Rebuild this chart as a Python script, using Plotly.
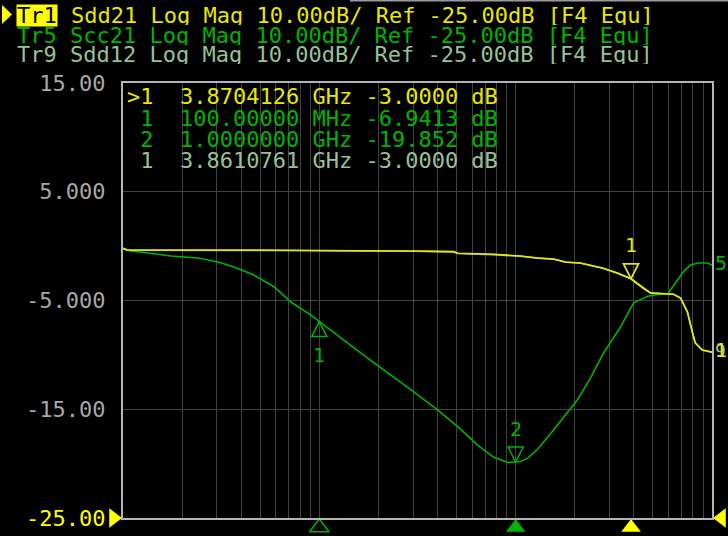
import numpy as np
import plotly.graph_objects as go

# ---------------- data (frequency in GHz, magnitude in dB) ----------------
tr1_freq = [0.0100, 0.0105, 0.050, 0.1145, 0.157, 0.300, 0.484, 0.507, 0.773, 1.06, 1.29, 1.56,
            1.80, 2.14, 2.77, 3.30, 3.87, 4.48, 4.86, 5.94, 6.36, 6.92, 7.50, 7.94, 8.22, 8.93, 9.80, 10.0]
tr1_db = [-0.20, -0.36, -0.36, -0.36, -0.42, -0.45, -0.51, -0.66, -0.75, -0.91, -1.09, -1.18,
          -1.46, -1.55, -2.01, -2.47, -3.00, -3.85, -4.31, -4.40, -4.43, -4.77, -6.06, -7.90, -8.90, -9.55, -9.74, -9.75]

tr9_freq = [0.0100, 0.0105, 0.050, 0.1145, 0.157, 0.300, 0.484, 0.507, 0.773, 1.06, 1.29, 1.56,
            1.80, 2.14, 2.77, 3.30, 3.86, 4.48, 4.86, 5.94, 6.36, 6.92, 7.50, 7.94, 8.22, 8.93, 9.80, 10.0]
tr9_db = [-0.20, -0.38, -0.40, -0.42, -0.45, -0.47, -0.53, -0.68, -0.78, -0.93, -1.10, -1.20,
          -1.48, -1.57, -2.03, -2.49, -3.00, -3.90, -4.30, -4.38, -4.42, -4.78, -6.08, -7.92, -8.92, -9.56, -9.75, -9.76]

tr5_freq = [0.0100, 0.0109, 0.0134, 0.0175, 0.0241, 0.0305, 0.0368, 0.0464, 0.0589, 0.0717, 0.0906,
            0.100, 0.114, 0.129, 0.163, 0.206, 0.260, 0.292, 0.400, 0.507, 0.640, 0.770, 0.910, 1.00,
            1.06, 1.15, 1.24, 1.29, 1.56, 1.84, 2.07, 2.41, 2.80, 3.42, 3.98, 4.69, 5.30, 5.94, 6.67,
            7.20, 7.78, 8.50, 9.46, 10.0]
tr5_db = [-0.20, -0.45, -0.63, -0.91, -1.09, -1.46, -1.92, -2.66, -3.76, -5.14, -6.34,
          -6.94, -7.72, -8.45, -9.83, -11.2, -12.5, -13.2, -15.05, -16.6, -18.3, -19.4, -19.9, -19.85,
          -19.8, -19.5, -19.0, -18.7, -16.9, -15.3, -14.1, -12.1, -9.83, -7.44, -5.23, -4.60, -4.45, -4.40, -3.10,
          -2.30, -1.74, -1.55, -1.55, -1.74]

# markers
mk1_freq = [3.8704126]
mk1_db = [-3.0000]
mk9_freq = [3.8610761]
mk9_db = [-3.0000]
mk5_freq = [0.1, 1.0]
mk5_db = [-6.9413, -19.852]
mk5_labels = ["1", "2"]

# axis
y_ticks = [15, 5, -5, -15, -25]
y_ticktext = ["15.00", "5.000", "-5.000", "-15.00", "-25.00"]
x_grid = [m * 10.0 ** e for e in (-2, -1, 0) for m in range(1, 10)] + [10.0]

header_rows = [
    ("Tr1", "Sdd21 Log Mag 10.00dB/ Ref -25.00dB [F4 Equ]"),
    ("Tr5", "Scc21 Log Mag 10.00dB/ Ref -25.00dB [F4 Equ]"),
    ("Tr9", "Sdd12 Log Mag 10.00dB/ Ref -25.00dB [F4 Equ]"),
]
table_rows = [
    ">1  3.8704126 GHz -3.0000 dB",
    " 1  100.00000 MHz -6.9413 dB",
    " 2  1.0000000 GHz -19.852 dB",
    " 1  3.8610761 GHz -3.0000 dB",
]

# ---------------- styling ----------------
YEL = "#e8e800"
YEL_B = "#ffff00"
GRN = "#00b400"
PAL = "#98c098"
AXC = "#a8a8a8"
GRID = "#424242"
FONT = "DejaVu Sans Mono"

W, H = 728, 536
L, R, T, B = 123, 16, 83, 18
PW, PH = W - L - R, H - T - B


def pxx(x):
    return (x - L) / PW


def pxy(y):
    return (H - B - y) / PH


fig = go.Figure()

fig.add_trace(go.Scatter(x=tr9_freq, y=tr9_db, mode="lines", line=dict(color=PAL, width=1.6), hoverinfo="skip"))
fig.add_trace(go.Scatter(x=tr5_freq, y=tr5_db, mode="lines", line=dict(color=GRN, width=1.6), hoverinfo="skip"))
fig.add_trace(go.Scatter(x=tr1_freq, y=tr1_db, mode="lines", line=dict(color=YEL, width=1.6), hoverinfo="skip"))

# on-trace markers (arrow symbols: tip sits on the data point)
fig.add_trace(go.Scatter(x=mk9_freq, y=mk9_db, mode="markers", cliponaxis=False,
                         marker=dict(symbol="arrow-down-open", size=15, color=PAL, line=dict(color=PAL, width=1.5))))
fig.add_trace(go.Scatter(x=mk1_freq, y=mk1_db, mode="markers", cliponaxis=False,
                         marker=dict(symbol="arrow-down-open", size=15, color=YEL, line=dict(color=YEL, width=1.5))))
fig.add_trace(go.Scatter(x=mk5_freq[:1], y=mk5_db[:1], mode="markers", cliponaxis=False,
                         marker=dict(symbol="arrow-up-open", size=15, color=GRN, line=dict(color=GRN, width=1.5))))
fig.add_trace(go.Scatter(x=mk5_freq[1:], y=mk5_db[1:], mode="markers", cliponaxis=False,
                         marker=dict(symbol="arrow-down-open", size=15, color=GRN, line=dict(color=GRN, width=1.5))))

# stimulus indicators under the axis (pointing up, pushed below the axis)
fig.add_trace(go.Scatter(x=mk5_freq[:1], y=[-25], mode="markers", cliponaxis=False,
                         marker=dict(symbol="triangle-up-open", size=17, angle=0, standoff=9.5,
                                     color=GRN, line=dict(color=GRN, width=1.5))))
fig.add_trace(go.Scatter(x=mk5_freq[1:], y=[-25], mode="markers", cliponaxis=False,
                         marker=dict(symbol="triangle-up", size=17, angle=0, standoff=9.5,
                                     color=GRN, line=dict(width=0))))
fig.add_trace(go.Scatter(x=mk1_freq, y=[-25], mode="markers", cliponaxis=False,
                         marker=dict(symbol="triangle-up", size=17, angle=0, standoff=9.5,
                                     color=YEL_B, line=dict(width=0))))
# reference level pointers
fig.add_trace(go.Scatter(x=[tr1_freq[0]], y=[-25], mode="markers", cliponaxis=False,
                         marker=dict(symbol="triangle-up", size=17, angle=90, standoff=9.5,
                                     color=YEL_B, line=dict(width=0))))
fig.add_trace(go.Scatter(x=[tr1_freq[-1]], y=[-25], mode="markers", cliponaxis=False,
                         marker=dict(symbol="triangle-up", size=17, angle=270, standoff=9.5,
                                     color=YEL_B, line=dict(width=0))))

annotations = []
# marker numbers
annotations.append(dict(x=np.log10(mk1_freq[0]), y=mk1_db[0], xref="x", yref="y", text="1", showarrow=False,
                        yshift=34, font=dict(family=FONT, size=20, color=YEL)))
annotations.append(dict(x=np.log10(mk5_freq[0]), y=mk5_db[0], xref="x", yref="y", text=mk5_labels[0],
                        showarrow=False, yshift=-33, font=dict(family=FONT, size=20, color=GRN)))
annotations.append(dict(x=np.log10(mk5_freq[1]), y=mk5_db[1], xref="x", yref="y", text=mk5_labels[1],
                        showarrow=False, yshift=33, font=dict(family=FONT, size=20, color=GRN)))
# trace end labels
annotations.append(dict(x=np.log10(tr5_freq[-1]), y=tr5_db[-1], xref="x", yref="y", text="5", showarrow=False,
                        xanchor="left", xshift=1, yshift=2, font=dict(family=FONT, size=20, color=GRN)))
annotations.append(dict(x=np.log10(tr9_freq[-1]), y=tr9_db[-1], xref="x", yref="y", text="9", showarrow=False,
                        xanchor="left", xshift=1, yshift=2, font=dict(family=FONT, size=18, color=PAL)))
annotations.append(dict(x=np.log10(tr1_freq[-1]), y=tr1_db[-1], xref="x", yref="y", text="1", showarrow=False,
                        xanchor="left", xshift=1, yshift=2, font=dict(family=FONT, size=20, color=YEL)))

# header
row_y = [15, 35, 55]
row_col = [YEL, GRN, PAL]
for i, (tr, desc) in enumerate(header_rows):
    if i == 0:
        annotations.append(dict(x=pxx(16), y=pxy(row_y[i]), xref="paper", yref="paper", text=tr,
                                showarrow=False, xanchor="left", yanchor="middle", bgcolor=YEL_B, borderpad=0,
                                height=21, font=dict(family=FONT, size=22, color="#000000")))
        annotations.append(dict(x=pxx(70), y=pxy(row_y[i]), xref="paper", yref="paper",
                                text=desc.replace(" ", "\u00a0"), showarrow=False, xanchor="left",
                                yanchor="middle", borderpad=0, height=19,
                                font=dict(family=FONT, size=22, color=row_col[i])))
    else:
        annotations.append(dict(x=pxx(16), y=pxy(row_y[i]), xref="paper", yref="paper",
                                text=(tr + " " + desc).replace(" ", "\u00a0"), showarrow=False, xanchor="left",
                                yanchor="middle", borderpad=0, height=19,
                                font=dict(family=FONT, size=22, color=row_col[i])))

# marker table
tab_y = [96, 117.5, 139, 160]
tab_col = [YEL, GRN, GRN, PAL]
for i, row in enumerate(table_rows):
    annotations.append(dict(x=pxx(126), y=pxy(tab_y[i]), xref="paper", yref="paper",
                            text=row.replace(" ", "\u00a0"), showarrow=False, xanchor="left", yanchor="middle",
                            borderpad=0, height=20, font=dict(family=FONT, size=22, color=tab_col[i])))

shapes = [
    # active-trace pointer
    dict(type="path", xref="paper", yref="paper",
         path=f"M {pxx(2)} {pxy(5)} L {pxx(12)} {pxy(14.5)} L {pxx(2)} {pxy(24)} Z",
         fillcolor=YEL_B, line=dict(width=0)),
    dict(type="line", xref="paper", yref="paper", x0=pxx(350), x1=pxx(728), y0=pxy(0.8), y1=pxy(0.8),
         line=dict(color="#9a9a9a", width=1.5)),
]

ticktext = [t if v != -25 else f'<span style="color:{YEL_B}">{t}</span>' for v, t in zip(y_ticks, y_ticktext)]

fig.update_layout(
    width=W, height=H,
    margin=dict(l=L, r=R, t=T, b=B, pad=0, autoexpand=False),
    paper_bgcolor="#000000", plot_bgcolor="#000000",
    showlegend=False,
    annotations=annotations,
    shapes=shapes,
    xaxis=dict(type="log", range=[-2, 1], tickvals=x_grid, showticklabels=False, ticks="",
               automargin=False,
               showgrid=True, gridcolor=GRID, gridwidth=1, zeroline=False,
               showline=True, mirror=True, linecolor="#b4b4b4", linewidth=2),
    yaxis=dict(range=[-25, 15], tickvals=y_ticks, ticktext=ticktext, ticks="", ticklabelstandoff=11,
               automargin=False,
               showgrid=True, gridcolor=GRID, gridwidth=1, zeroline=False,
               showline=True, mirror=True, linecolor="#b4b4b4", linewidth=2,
               tickfont=dict(family=FONT, size=22, color=AXC)),
)

fig.write_html("out.html", config={"displayModeBar": False},
               post_script="document.body.style.margin='0';document.body.style.background='#000';")
